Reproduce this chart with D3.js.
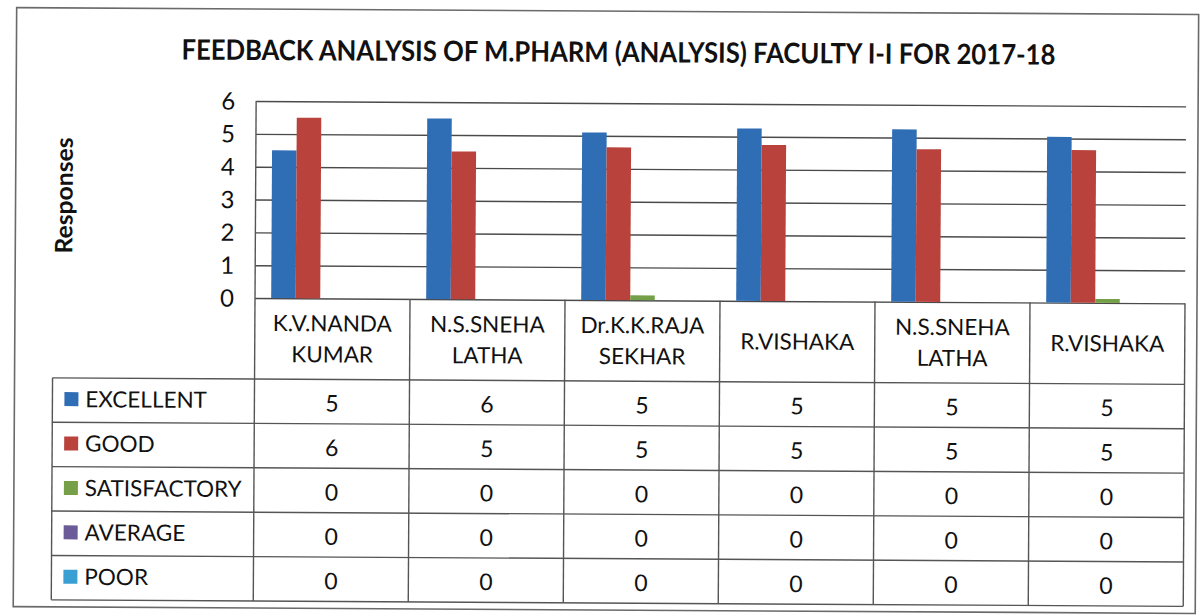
<!DOCTYPE html>
<html>
<head>
<meta charset="utf-8">
<script src="https://cdn.jsdelivr.net/npm/d3@7"></script>
<style>
  body { margin: 0; background: #fff; }
  text { font-family: Lato, "Open Sans", sans-serif; fill: #111; }
</style>
</head>
<body>
<div id="chart"></div>
<script>
const title = "FEEDBACK ANALYSIS OF M.PHARM (ANALYSIS) FACULTY I-I FOR 2017-18";
const categories = ["K.V.NANDA KUMAR", "N.S.SNEHA LATHA", "Dr.K.K.RAJA SEKHAR", "R.VISHAKA", "N.S.SNEHA LATHA", "R.VISHAKA"];
const series = ["EXCELLENT", "GOOD", "SATISFACTORY", "AVERAGE", "POOR"];
const excellent    = [4.5, 5.5, 5.1, 5.25, 5.25, 5.05];
const good         = [5.5, 4.5, 4.65, 4.75, 4.65, 4.65];
const satisfactory = [0, 0, 0.15, 0, 0, 0.12];
const average      = [0, 0, 0, 0, 0, 0];
const poor         = [0, 0, 0, 0, 0, 0];
const yTicks = [0, 1, 2, 3, 4, 5, 6];

const values = [excellent, good, satisfactory, average, poor];
const colors = ["#2f6db5", "#b9433c", "#76a047", "#6b5b98", "#3a9fd2"];

const W = 1204, H = 616;
const svg = d3.select('#chart')
    .append('svg')
    .attr('width', W)
    .attr('height', H);

// the scan is tilted a little
const root = svg.append('g').attr('transform', 'rotate(0.33,600,300)');

// outer frame
root.append('rect')
    .attr('x', 15).attr('y', 11)
    .attr('width', 1182).attr('height', 599)
    .attr('fill', 'none')
    .attr('stroke', '#6a6a6a')
    .attr('stroke-width', 1.6);

root.append('text')
    .attr('x', 617).attr('y', 62)
    .attr('text-anchor', 'middle')
    .attr('font-size', 28)
    .attr('font-weight', 700)
    .attr('textLength', 874)
    .attr('lengthAdjust', 'spacingAndGlyphs')
    .text(title);

const plotLeft = 255, plotRight = 1185, plotTop = 103, plotBottom = 300;
const tableTop = 381, tableBottom = 603, legendLeft = 53;

const x0 = d3.scaleBand()
    .domain(d3.range(categories.length))
    .range([plotLeft, plotRight])
    .padding(0);

const x1 = d3.scaleBand()
    .domain(series)
    .range([0, x0.bandwidth()])
    .paddingInner(0)
    .paddingOuter(0.66);

const y = d3.scaleLinear()
    .domain([0, 6])
    .range([plotBottom, plotTop]);

const color = d3.scaleOrdinal().domain(series).range(colors);

// gridlines
const grid = root.append('g')
    .attr('transform', `translate(${plotLeft},0)`)
    .call(d3.axisLeft(y).tickValues(yTicks).tickSize(-(plotRight - plotLeft)).tickFormat(''));
grid.select('.domain').remove();
grid.selectAll('line').attr('stroke', '#4a4a4a').attr('stroke-width', 1.4);

// y labels
const yAxis = root.append('g')
    .attr('transform', `translate(${plotLeft - 21},0)`)
    .call(d3.axisLeft(y).tickValues(yTicks).tickSize(0).tickFormat(d3.format('d')));
yAxis.select('.domain').remove();
yAxis.selectAll('text')
    .attr('x', 0)
    .attr('dy', '0.34em')
    .attr('text-anchor', 'end')
    .attr('font-size', 24)
    .style('font-family', 'Lato, sans-serif')
    .attr('fill', '#111');

root.append('text')
    .attr('transform', `translate(72,${(plotTop + plotBottom) / 2 - 3}) rotate(-90)`)
    .attr('text-anchor', 'middle')
    .attr('font-size', 24)
    .attr('font-weight', 700)
    .attr('textLength', 116)
    .attr('lengthAdjust', 'spacingAndGlyphs')
    .text('Responses');

// bars
const groups = root.append('g')
    .selectAll('g')
    .data(categories)
    .join('g')
    .attr('transform', (d, i) => `translate(${x0(i)},0)`);

groups.selectAll('rect')
    .data((d, i) => series.map((s, k) => ({ s: s, v: values[k][i] })))
    .join('rect')
    .attr('x', d => x1(d.s))
    .attr('width', x1.bandwidth())
    .attr('y', d => y(d.v))
    .attr('height', d => y(0) - y(d.v))
    .attr('fill', d => color(d.s));

// data table
const row = d3.scaleBand()
    .domain(series)
    .range([tableTop, tableBottom]);

const lines = root.append('g')
    .attr('stroke', '#555')
    .attr('stroke-width', 1.4);

// plot left edge down through the table
lines.append('line')
    .attr('x1', plotLeft).attr('x2', plotLeft)
    .attr('y1', plotTop).attr('y2', tableBottom);
// column separators
x0.domain().slice(1).forEach(i => {
    lines.append('line')
        .attr('x1', x0(i)).attr('x2', x0(i))
        .attr('y1', plotBottom).attr('y2', tableBottom);
});
lines.append('line')
    .attr('x1', plotRight).attr('x2', plotRight)
    .attr('y1', plotBottom).attr('y2', tableBottom);
// legend column
lines.append('line')
    .attr('x1', legendLeft).attr('x2', legendLeft)
    .attr('y1', tableTop).attr('y2', tableBottom);
// row lines
series.forEach(s => {
    lines.append('line')
        .attr('x1', legendLeft).attr('x2', plotRight)
        .attr('y1', row(s)).attr('y2', row(s));
});
lines.append('line')
    .attr('x1', legendLeft).attr('x2', plotRight)
    .attr('y1', tableBottom).attr('y2', tableBottom);

// header labels
const header = root.append('g')
    .selectAll('text')
    .data(categories)
    .join('text')
    .attr('x', (d, i) => x0(i) + x0.bandwidth() / 2)
    .attr('text-anchor', 'middle')
    .attr('font-size', 22.5);

header.each(function (d) {
    const parts = d.split(' ');
    const t = d3.select(this);
    const mid = (plotBottom + tableTop) / 2 + 8;
    parts.forEach((p, j) => {
        t.append('tspan')
            .attr('x', t.attr('x'))
            .attr('y', mid + (j - (parts.length - 1) / 2) * 31)
            .text(p);
    });
});

// legend keys in the table
const legendRows = root.append('g')
    .selectAll('g')
    .data(series)
    .join('g')
    .attr('transform', s => `translate(${legendLeft},${row(s)})`);

legendRows.append('rect')
    .attr('x', 12)
    .attr('y', row.bandwidth() / 2 - 8)
    .attr('width', 14).attr('height', 14)
    .attr('fill', s => color(s));

legendRows.append('text')
    .attr('x', 33)
    .attr('y', row.bandwidth() / 2 + 7)
    .attr('font-size', 22.5)
    .text(s => s);

// table values, shown rounded
const fmt = d3.format('.0f');
series.forEach((s, k) => {
    root.append('g')
        .selectAll('text')
        .data(values[k])
        .join('text')
        .attr('x', (d, i) => x0(i) + x0.bandwidth() / 2)
        .attr('y', row(s) + row.bandwidth() / 2 + 10)
        .attr('text-anchor', 'middle')
        .attr('font-size', 23)
        .text(d => fmt(d));
});
</script>
</body>
</html>
